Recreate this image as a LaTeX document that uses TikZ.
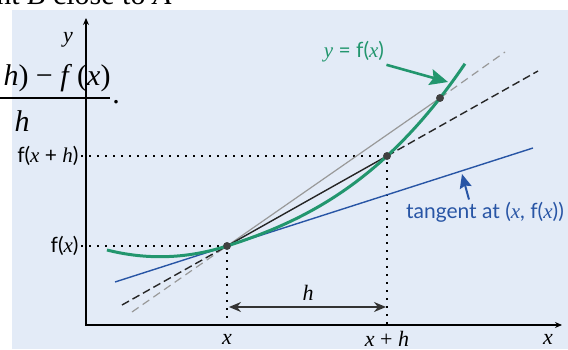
\documentclass[tikz,border=0pt]{standalone}
\usepackage{fontspec}
\setmainfont{Liberation Serif}
\setsansfont{Lato}
\usetikzlibrary{arrows.meta}
\definecolor{panel}{RGB}{227,235,247}
\definecolor{curvegreen}{RGB}{34,150,110}
\definecolor{tanblue}{RGB}{40,85,165}
\newcommand{\xv}{{\rmfamily\itshape x}}
\newcommand{\hv}{{\rmfamily\itshape h}}

\begin{document}
\begin{tikzpicture}[x=0.5pt,y=0.5pt]
\tikzstyle{lbl}=[font=\sffamily\fontsize{10.5}{12}\selectfont,inner sep=1pt]
\tikzstyle{mlbl}=[font=\rmfamily\itshape\fontsize{11}{13}\selectfont,inner sep=1pt]
\tikzstyle{page}=[font=\rmfamily\fontsize{15}{17}\selectfont,inner sep=0pt]
\tikzstyle{dotline}=[line width=1pt,dash pattern=on 1pt off 3pt]
\tikzstyle{graydash}=[black!40,line width=0.6pt,dash pattern=on 4pt off 2.5pt]
\tikzstyle{blackdash}=[black!85,line width=0.7pt,dash pattern=on 4pt off 2pt]
\tikzstyle{pt}=[circle,fill=black!75,inner sep=0pt,minimum size=3.8pt]
\useasboundingbox (0,0) rectangle (568,349);
\fill[panel] (12,0) rectangle (568,339);

% text of the page behind
\begin{scope}
\clip (0,0) rectangle (568,349);
\node[page,anchor=base west] (top) at (-4,344) {nt \textit{B} close to \textit{A}};
\node[page] (num) at (57,271) {\textit{h}) \textminus{} \textit{f}\,(\textit{x})};
\draw[line width=0.6pt] (0,251) -- (110,251);
\node[page] (den) at (22,228) {\textit{h}};
\node[page] (dot) at (116,247) {.};
\end{scope}

% points
\node[pt] (A) at (227,103) {};
\node[pt] (B) at (387,193) {};
\node[pt] (C) at (440,251) {};
\coordinate (O) at (86,24);
\coordinate (ytop) at (86,331);
\coordinate (xend) at (562,24);
\coordinate (xa) at (227,24);
\coordinate (xb) at (387,24);

% axes
\draw[line width=0.8pt,{Stealth[length=3.5pt,width=3pt]}-{Stealth[length=3.5pt,width=3pt]}] (ytop) |- (xend);
\node[mlbl] (ylab) at (68,309) {y};
\node[mlbl] (xlab) at (548,10) {x};
\node[mlbl] (xalab) at (227,10) {x};
\node[mlbl] (xblab) at (387,10) {x \upshape+\itshape\ h};
\node[lbl,anchor=east] (fx) at (81,103) {f(\xv)};
\node[lbl,anchor=east] (fxh) at (81,193) {f(\xv\ + \hv)};

% dotted guides
\draw[dotline] (fx.east) -- (A.center) -- (xa);
\draw[dotline] (fxh.east) -- (B.center) -- (xb);

% chords and tangent
\coordinate (g1) at (132,37);
\coordinate (g2) at (505,297);
\coordinate (k1) at (122,44);
\coordinate (k2) at (538,278);
\coordinate (t1) at (115,67);
\coordinate (t2) at (533,201);
\draw[graydash] (g1) -- (A.center);
\draw[black!40,line width=0.6pt] (A.center) -- (C.center);
\draw[graydash] (C.center) -- (g2);
\draw[blackdash] (k1) -- (A.center);
\draw[black!85,line width=0.7pt] (A.center) -- (B.center);
\draw[blackdash] (B.center) -- (k2);
\draw[tanblue,line width=0.7pt] (t1) -- (t2);

% the curve
\draw[curvegreen,line width=1.5pt] plot[domain=-1.2:0,samples=40,smooth] ({227+100*\x},{103+32*\x+23.9*\x*\x})
  -- plot[domain=0:2.38,samples=60,smooth] ({227+100*\x},{103+32*\x+7.78*\x*\x+4.608*\x*\x*\x});
\node[pt] at (A) {};
\node[pt] at (B) {};
\node[pt] at (C) {};

% width h
\coordinate (ha) at (229,42);
\coordinate (hb) at (386,42);
\draw[black!80,line width=0.7pt,{Stealth[length=6pt,width=5pt]}-{Stealth[length=6pt,width=5pt]}] (ha) -- (hb);
\node[mlbl] (hlab) at (308,56) {h};

% labels with pointers
\node[lbl,text=curvegreen] (curvelab) at (354,297) {{\rmfamily\itshape y} = f(\xv)};
\coordinate (gtip) at (448,267);
\draw[curvegreen,line width=1.3pt,-{Stealth[length=9pt,width=8pt,inset=1.5pt]}] (curvelab.south east) -- (gtip);
\node[lbl,text=tanblue] (tanlab) at (485,137) {tangent at (\xv, f(\xv))};
\coordinate (ttip) at (462,175);
\draw[tanblue,line width=1pt,-{Stealth[length=7pt,width=6pt,inset=1pt]}] ([xshift=-8pt]tanlab.north) -- (ttip);
\end{tikzpicture}
\end{document}
